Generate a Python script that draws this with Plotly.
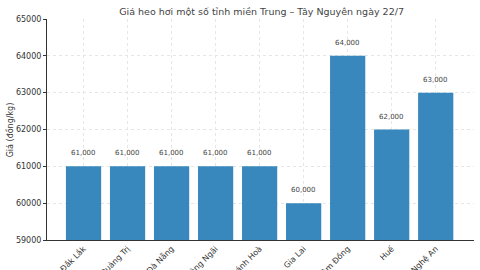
import plotly.graph_objects as go

provinces = ["Đắk Lắk", "Quảng Trị", "Đà Nẵng", "Quảng Ngãi", "Khánh Hoà",
             "Gia Lai", "Lâm Đồng", "Huế", "Nghệ An"]
prices = [61000, 61000, 61000, 61000, 61000, 60000, 64000, 62000, 63000]
y_ticks = [59000, 60000, 61000, 62000, 63000, 64000, 65000]

FONT = "DejaVu Sans"
fig = go.Figure()
fig.add_trace(go.Bar(
    x=list(range(len(provinces))), y=prices, width=0.8,
    marker=dict(color="#2980b9", line=dict(width=0)),
    opacity=0.93,
))
for i, v in enumerate(prices):
    fig.add_annotation(x=i, y=v, text=f"{v:,}", showarrow=False,
                       yanchor="bottom", yshift=7,
                       font=dict(family=FONT, size=7, color="#444"))

fig.add_annotation(xref="paper", yref="paper", x=-0.087, y=0.5,
                   text="Giá (đồng/kg)", textangle=-90, showarrow=False,
                   xanchor="center", yanchor="middle",
                   font=dict(family=FONT, size=8, color="#333"))

fig.update_layout(
    width=480, height=270,
    margin=dict(l=47, r=6, t=19, b=30),
    paper_bgcolor="white", plot_bgcolor="white",
    showlegend=False,
    title=dict(text="Giá heo hơi một số tỉnh miền Trung – Tây Nguyên ngày 22/7",
               x=0.545, xanchor="center", y=0.958, yanchor="middle",
               font=dict(family=FONT, size=9.5, color="#444", weight="normal")),
)
fig.update_xaxes(
    range=[-0.83, 8.87], tickvals=list(range(len(provinces))), ticktext=provinces,
    tickangle=-45, tickfont=dict(family=FONT, size=8, color="#333"),
    showgrid=True, gridcolor="#e6e6e6", griddash="dot", gridwidth=0.6,
    showline=True, linecolor="#333", linewidth=1,
    ticks="", automargin=False, zeroline=False,
)
fig.update_yaxes(
    range=[59000, 65000], tickvals=y_ticks, ticktext=[str(t) for t in y_ticks],
    tickfont=dict(family=FONT, size=8, color="#333"),
    showgrid=True, gridcolor="#e6e6e6", griddash="dot", gridwidth=0.6,
    showline=True, linecolor="#333", linewidth=1,
    ticks="outside", ticklen=3, tickcolor="#333",
    automargin=False, zeroline=False,
)
fig.write_html("out.html")
